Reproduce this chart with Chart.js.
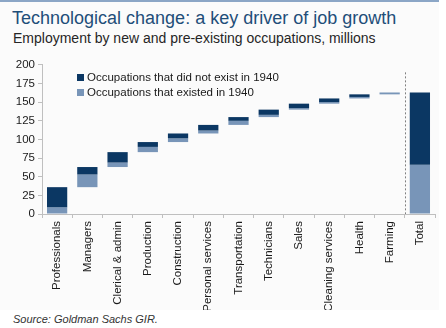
<!DOCTYPE html>
<html>
<head>
<meta charset="utf-8">
<script src="https://cdn.jsdelivr.net/npm/chart.js@4/dist/chart.umd.min.js"></script>
<style>
html,body{margin:0;padding:0;background:#fff;}
body{width:446px;height:328px;position:relative;overflow:hidden;font-family:"Liberation Sans",Arial,sans-serif;}
#panel{position:absolute;left:0;top:0;width:439px;height:310px;background:#fbfbfb;border-top:2px solid #8ba6c6;box-sizing:border-box;}
#title{position:absolute;left:12px;top:9px;font-size:18px;line-height:18px;color:#1f4e79;white-space:nowrap;}
#subtitle{position:absolute;left:13px;top:31px;font-size:14px;line-height:14px;color:#262626;white-space:nowrap;}
#chartWrap{position:absolute;left:0;top:55px;width:439px;height:255px;}
#legend{position:absolute;left:77px;top:70px;font-size:11.5px;color:#1a1a1a;}
#legend div{height:15px;line-height:15px;white-space:nowrap;}
#legend span{display:inline-block;width:7px;height:7px;margin-right:3px;vertical-align:0px;}
#source{position:absolute;left:13px;top:313px;font-size:11px;font-style:italic;color:#333;white-space:nowrap;}
</style>
</head>
<body>
<div id="panel"></div>
<div id="title">Technological change: a key driver of job growth</div>
<div id="subtitle">Employment by new and pre-existing occupations, millions</div>
<div id="chartWrap"><canvas id="chart" width="439" height="255"></canvas></div>
<div id="legend">
  <div><span style="background:#0b3763"></span>Occupations that did not exist in 1940</div>
  <div><span style="background:#7895b8"></span>Occupations that existed in 1940</div>
</div>
<div id="source">Source: Goldman Sachs GIR.</div>
<script>
// categories and values (millions)
const categories=['Professionals','Managers','Clerical & admin','Production','Construction','Personal services','Transportation','Technicians','Sales','Cleaning services','Health','Farming','Total'];
const existed=[9,17,6,7,5,4,5.5,3,2,2,2,2.5];       // occupations that existed in 1940
const newJobs=[27,10,14,6.5,6.5,7.5,5,7,6,5,3.5,0]; // occupations that did not exist in 1940
const totalExisted=66;
const totalNew=97;
const yTicks=[0,25,50,75,100,125,150,175,200];

const DARK='#0b3763', LIGHT='#7895b8', AXIS='#bfbfbf';

// waterfall ranges
const lightData=[], darkData=[];
let run=0;
existed.forEach((e,i)=>{
  lightData.push([run,run+e]); run+=e;
  darkData.push([run,run+newJobs[i]]); run+=newJobs[i];
});
lightData.push([0,totalExisted]);
darkData.push([totalExisted,totalExisted+totalNew]);

// dashed separator before Total
const separator={
  id:'separator',
  afterDatasetsDraw(chart){
    const x=chart.scales.x, y=chart.scales.y, ctx=chart.ctx;
    const px=(x.getPixelForValue(categories.length-2)+x.getPixelForValue(categories.length-1))/2;
    ctx.save();
    ctx.strokeStyle='#808080'; ctx.lineWidth=1; ctx.setLineDash([2,2]);
    ctx.beginPath(); ctx.moveTo(Math.round(px)+0.5,y.getPixelForValue(190)); ctx.lineTo(Math.round(px)+0.5,y.getPixelForValue(0)); ctx.stroke();
    ctx.restore();
  }
};

Chart.defaults.font.family='"Liberation Sans", Arial, sans-serif';
Chart.defaults.color='#1a1a1a';

new Chart(document.getElementById('chart'),{
  type:'bar',
  data:{labels:categories,datasets:[
    {label:'Occupations that did not exist in 1940',data:darkData,backgroundColor:DARK,borderWidth:0,grouped:false,categoryPercentage:1,barPercentage:0.67},
    {label:'Occupations that existed in 1940',data:lightData,backgroundColor:LIGHT,borderWidth:0,grouped:false,categoryPercentage:1,barPercentage:0.67}
  ]},
  options:{
    responsive:false,animation:false,
    layout:{padding:{top:7,right:4,left:0,bottom:0}},
    plugins:{legend:{display:false},tooltip:{enabled:false}},
    scales:{
      x:{
        grid:{display:true,drawOnChartArea:false,drawTicks:true,tickLength:4,color:AXIS,offset:true},
        border:{color:AXIS},
        ticks:{autoSkip:false,minRotation:90,maxRotation:90,padding:3,font:{size:11.5},color:'#1a1a1a'},
        afterFit(s){ s.height=96; }
      },
      y:{
        min:0,max:200,
        afterBuildTicks(s){ s.ticks=yTicks.map(v=>({value:v})); },
        grid:{drawOnChartArea:false,drawTicks:true,tickLength:4,color:AXIS},
        border:{color:AXIS},
        ticks:{padding:3,font:{size:11.5},color:'#1a1a1a'},
        afterFit(s){ s.width=42; }
      }
    }
  },
  plugins:[separator]
});
</script>
</body>
</html>
